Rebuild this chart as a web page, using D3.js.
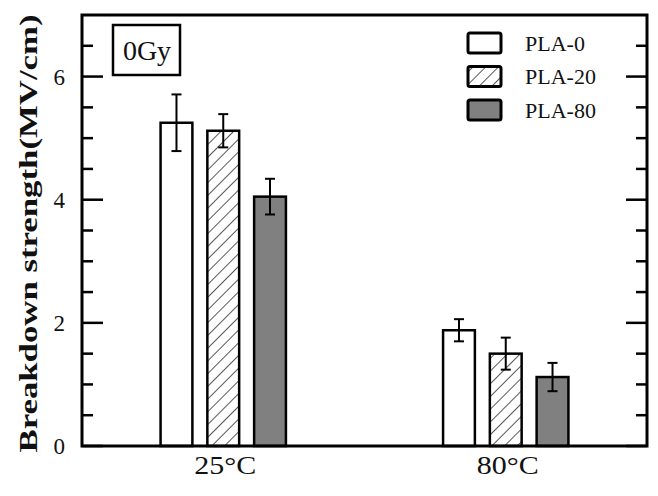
<!DOCTYPE html>
<meta charset="utf-8">
<script src="https://d3js.org/d3.v7.min.js"></script>
<style>
  body { margin: 0; background: #fff; }
  text { font-family: "Liberation Serif", "Times New Roman", serif; fill: #111; }
</style>
<div id="chart"></div>
<script>
  // data
  const categories = ["25\u00B0C", "80\u00B0C"];
  const series = ["PLA-0", "PLA-20", "PLA-80"];
  const values = {
    "PLA-0":  [5.25, 1.88],
    "PLA-20": [5.12, 1.50],
    "PLA-80": [4.05, 1.12]
  };
  const errors = {
    "PLA-0":  [0.46, 0.18],
    "PLA-20": [0.27, 0.26],
    "PLA-80": [0.29, 0.23]
  };
  const yTicks = [0, 2, 4, 6];
  const yMinor = d3.range(0.5, 7, 0.5).filter(v => v % 2 !== 0);

  const W = 658, H = 496;
  const margin = {top: 15, right: 11, bottom: 50, left: 82};
  const width = W - margin.left - margin.right,
        height = H - margin.top - margin.bottom;

  const svg = d3.select("#chart").append("svg")
    .attr("width", W).attr("height", H);

  // hatch pattern
  const defs = svg.append("defs");
  defs.append("pattern")
      .attr("id", "hatch")
      .attr("patternUnits", "userSpaceOnUse")
      .attr("width", 9).attr("height", 9)
      .attr("patternTransform", "rotate(45)")
    .append("line")
      .attr("x1", 0).attr("y1", 0).attr("x2", 0).attr("y2", 9)
      .attr("stroke", "#111").attr("stroke-width", 1.4);

  const fills = {"PLA-0": "#fff", "PLA-20": "url(#hatch)", "PLA-80": "#808080"};

  const g = svg.append("g").attr("transform", `translate(${margin.left},${margin.top})`);

  const x = d3.scaleBand().domain(categories).range([0, width])
    .paddingInner(0.5).paddingOuter(0.25);
  const xs = d3.scaleBand().domain(series).range([0, x.bandwidth()])
    .paddingInner(0.32).paddingOuter(0.17);
  const y = d3.scaleLinear().domain([0, 7]).range([height, 0]);

  // bars
  series.forEach(s => {
    const grp = g.append("g");
    categories.forEach((c, i) => {
      const bx = x(c) + xs(s);
      grp.append("rect")
        .attr("x", bx).attr("y", y(values[s][i]))
        .attr("width", xs.bandwidth()).attr("height", height - y(values[s][i]))
        .attr("fill", fills[s]).attr("stroke", "#000").attr("stroke-width", 2.5);
      const cx = bx + xs.bandwidth() / 2;
      const hi = y(values[s][i] + errors[s][i]), lo = y(values[s][i] - errors[s][i]);
      grp.append("line").attr("x1", cx).attr("x2", cx).attr("y1", hi).attr("y2", lo)
        .attr("stroke", "#000").attr("stroke-width", 2);
      [hi, lo].forEach(yy => grp.append("line")
        .attr("x1", cx - 5).attr("x2", cx + 5).attr("y1", yy).attr("y2", yy)
        .attr("stroke", "#000").attr("stroke-width", 2));
    });
  });

  // axes: inward ticks left and right
  const tickStroke = 2.5;
  yTicks.forEach(t => {
    g.append("line").attr("x1", 0).attr("x2", 21).attr("y1", y(t)).attr("y2", y(t))
      .attr("stroke", "#000").attr("stroke-width", tickStroke);
    g.append("line").attr("x1", width - 21).attr("x2", width).attr("y1", y(t)).attr("y2", y(t))
      .attr("stroke", "#000").attr("stroke-width", tickStroke);
    g.append("text").attr("x", -17).attr("y", y(t)).attr("dy", "0.35em")
      .attr("text-anchor", "end").style("font-size", "23px").text(t);
  });
  yMinor.forEach(t => {
    g.append("line").attr("x1", 0).attr("x2", 11).attr("y1", y(t)).attr("y2", y(t))
      .attr("stroke", "#000").attr("stroke-width", tickStroke);
    g.append("line").attr("x1", width - 11).attr("x2", width).attr("y1", y(t)).attr("y2", y(t))
      .attr("stroke", "#000").attr("stroke-width", tickStroke);
  });

  // frame
  g.append("rect").attr("x", 0).attr("y", 0).attr("width", width).attr("height", height)
    .attr("fill", "none").attr("stroke", "#000").attr("stroke-width", 3);

  // category labels
  categories.forEach(c => {
    g.append("text").attr("x", x(c) + x.bandwidth() / 2 + 2).attr("y", height + 28)
      .attr("text-anchor", "middle")
      .attr("textLength", 62).attr("lengthAdjust", "spacingAndGlyphs")
      .style("font-size", "26px").text(c);
  });

  // y label (stretched along its baseline like the original)
  svg.append("text")
    .attr("transform", `translate(37,${margin.top + height / 2 + 3}) rotate(-90)`)
    .attr("text-anchor", "middle")
    .attr("textLength", 438).attr("lengthAdjust", "spacingAndGlyphs")
    .style("font-size", "25px").style("font-weight", "bold")
    .text("Breakdown strength(MV/cm)");

  // 0Gy box
  g.append("rect").attr("x", 31).attr("y", 10).attr("width", 67).attr("height", 50)
    .attr("fill", "#fff").attr("stroke", "#000").attr("stroke-width", 2.5);
  g.append("text").attr("x", 65).attr("y", 45).attr("text-anchor", "middle")
    .style("font-size", "28px").text("0Gy");

  // legend
  const leg = g.append("g").attr("transform", "translate(386,18)");
  series.forEach((s, i) => {
    leg.append("rect").attr("x", 0).attr("y", i * 33.5).attr("width", 33).attr("height", 20)
      .attr("rx", 2).attr("fill", fills[s]).attr("stroke", "#000").attr("stroke-width", 3);
    leg.append("text").attr("x", 57).attr("y", i * 33.5 + 10).attr("dy", "0.35em")
      .style("font-size", "22px").text(s);
  });
</script>
